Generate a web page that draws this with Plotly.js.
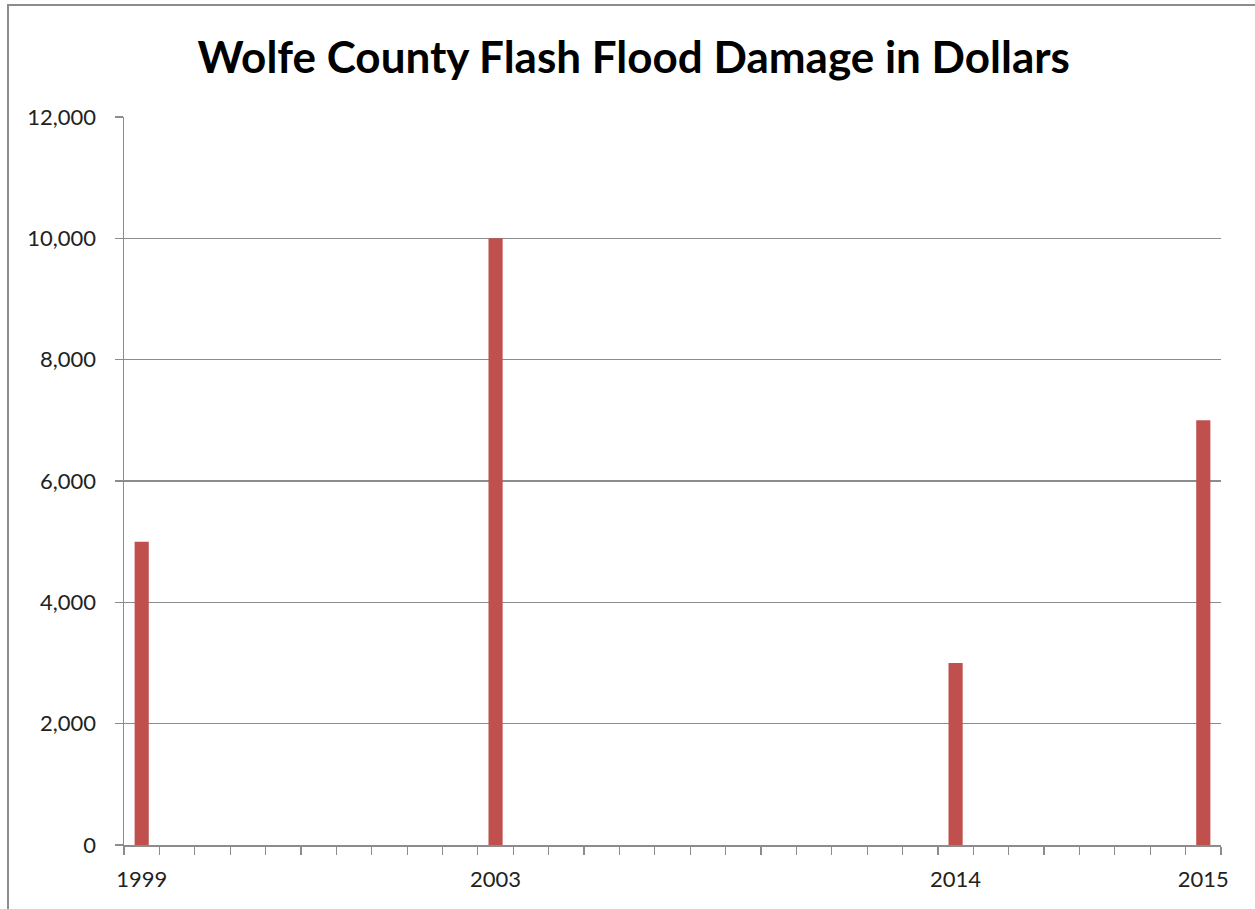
<!DOCTYPE html>
<html>
<head>
<meta charset="utf-8">
<script src="https://cdn.plot.ly/plotly-3.0.1.min.js"></script>
<style>
  html, body { margin: 0; padding: 0; background: #fff; overflow: hidden; }
  #frame { position: absolute; left: 7px; top: 4px; width: 1400px; height: 1100px; border: 2px solid #8c8c8c; box-sizing: border-box; }
  #chart { position: absolute; left: 0; top: 0; width: 1255px; height: 909px; }
</style>
</head>
<body>
<div id="frame"></div>
<div id="chart"></div>
<script>
// 31 category rows on the axis; only four rows carry a label and a value
const categories = ['1999','','','','','','','','','','2003','','','','','','','','','','','','','2014','','','','','','','2015'];
const damage = [5000,null,null,null,null,null,null,null,null,null,10000,null,null,null,null,null,null,null,null,null,null,null,null,3000,null,null,null,null,null,null,7000];
const yTicks = [0, 2000, 4000, 6000, 8000, 10000, 12000];

const idx = categories.map((c, i) => i);
const labelled = idx.filter(i => categories[i] !== '');

const font = 'Lato, "Open Sans", sans-serif';

Plotly.newPlot('chart', [{
  type: 'bar',
  x: idx,
  y: damage,
  marker: { color: '#C0504D', line: { width: 0 } },
  hoverinfo: 'x+y'
}], {
  width: 1255,
  height: 909,
  paper_bgcolor: 'rgba(0,0,0,0)',
  plot_bgcolor: '#ffffff',
  margin: { l: 124, r: 34, t: 117, b: 64 },
  bargap: 0.6,
  showlegend: false,
  title: {
    text: '<b>Wolfe County Flash Flood Damage in Dollars</b>',
    x: 0.505, xanchor: 'center',
    y: 0.937, yanchor: 'middle',
    font: { family: font, size: 44, color: '#000' }
  },
  xaxis: {
    range: [-0.5, categories.length - 0.5],
    tickmode: 'array',
    tickvals: labelled,
    ticktext: labelled.map(i => categories[i]),
    ticks: '',
    showgrid: false,
    zeroline: false,
    showline: true,
    linecolor: '#8c8c8c',
    linewidth: 1.5,
    tickfont: { family: font, size: 22, color: '#222' },
    ticklabelstandoff: 14,
    minor: { tick0: -0.5, dtick: 1, ticks: 'outside', ticklen: 8, tickcolor: '#8c8c8c', tickwidth: 1.2, showgrid: false }
  },
  yaxis: {
    range: [0, 12000],
    tickmode: 'array',
    tickvals: yTicks,
    tickformat: ',d',
    ticks: 'outside',
    ticklen: 8,
    tickcolor: '#8c8c8c',
    tickwidth: 1.2,
    showgrid: true,
    gridcolor: '#8c8c8c',
    gridwidth: 1.2,
    zeroline: false,
    showline: true,
    linecolor: '#8c8c8c',
    linewidth: 1.5,
    tickfont: { family: font, size: 22, color: '#222' },
    ticklabelstandoff: 14
  }
}, { displayModeBar: false, staticPlot: true });
</script>
</body>
</html>
